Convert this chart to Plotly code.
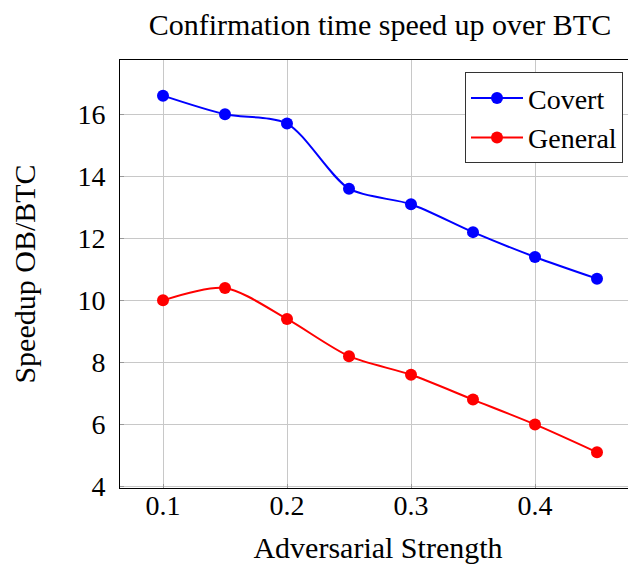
import plotly.graph_objects as go

strength = [0.1, 0.15, 0.2, 0.25, 0.3, 0.35, 0.4, 0.45]
covert = [16.6, 16.0, 15.7, 13.6, 13.1, 12.2, 11.4, 10.7]
general = [10.0, 10.4, 9.4, 8.2, 7.6, 6.8, 6.0, 5.1]
x_ticks = [0.1, 0.2, 0.3, 0.4]
x_tick_labels = ["0.1", "0.2", "0.3", "0.4"]
y_ticks = [4, 6, 8, 10, 12, 14, 16]

FONT = "Liberation Serif"
# page body has an 8px margin; figure sized/offset to compensate
W, H = 628, 556

fig = go.Figure()
fig.add_trace(go.Scatter(x=strength, y=covert, name="Covert", mode="lines+markers",
                         line=dict(color="#0000ff", width=2, shape="spline", smoothing=0.8),
                         marker=dict(color="#0000ff", size=12)))
fig.add_trace(go.Scatter(x=strength, y=general, name="General", mode="lines+markers",
                         line=dict(color="#ff0000", width=2, shape="spline", smoothing=0.8),
                         marker=dict(color="#ff0000", size=12)))

fig.update_layout(
    width=W, height=H,
    margin=dict(l=112, r=0, t=51.5, b=74, pad=0),
    paper_bgcolor="white", plot_bgcolor="white",
    font=dict(family=FONT, size=28, color="black"),
    title=dict(text="Confirmation time speed up over BTC", x=372/W, xanchor="center",
               y=1 - 16/H, yanchor="middle", font=dict(size=30)),
    showlegend=True,
    legend=dict(x=0.9748, xanchor="right", y=0.971, yanchor="top",
                bordercolor="#333333", borderwidth=1, bgcolor="white",
                font=dict(size=28), itemwidth=52, tracegroupgap=0),
    xaxis=dict(range=[0.1 - 43/1240, 0.1 + 473/1240], tickvals=x_ticks, ticktext=x_tick_labels,
               showgrid=True, gridcolor="#c8c8c8", gridwidth=1,
               showline=True, linecolor="black", linewidth=1, mirror=True,
               ticks="inside", ticklen=4, tickcolor="#999999",
               zeroline=False, tickfont=dict(size=28), ticklabelstandoff=-8,
               title=dict(text="Adversarial Strength", font=dict(size=30), standoff=22)),
    yaxis=dict(range=[3.95, 17.75], tickvals=y_ticks,
               showgrid=True, gridcolor="#c8c8c8", gridwidth=1,
               showline=True, linecolor="black", linewidth=1, mirror=False,
               ticks="inside", ticklen=4, tickcolor="#999999",
               zeroline=False, tickfont=dict(size=28), ticklabelstandoff=8,
               title=dict(text="Speedup OB/BTC", font=dict(size=30), standoff=32)),
)

fig.write_html("out.html")
